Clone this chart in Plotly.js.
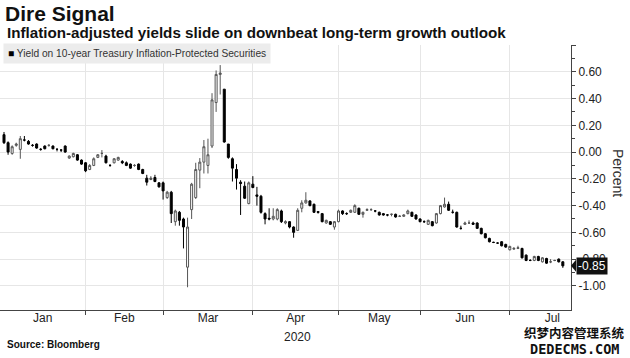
<!DOCTYPE html>
<html><head><meta charset="utf-8">
<script src="https://cdn.plot.ly/plotly-3.0.1.min.js"></script>
<style>html,body{margin:0;padding:0;background:#fff}#chart{width:630px;height:358px}</style>
</head><body><div id="chart"></div>
<script>
const dates = [
 "2020-01-02","2020-01-03","2020-01-06","2020-01-07","2020-01-08","2020-01-09","2020-01-10","2020-01-13","2020-01-14","2020-01-15","2020-01-16","2020-01-17","2020-01-21","2020-01-22","2020-01-23","2020-01-24","2020-01-27","2020-01-28","2020-01-29","2020-01-30","2020-01-31",
 "2020-02-03","2020-02-04","2020-02-05","2020-02-06","2020-02-07","2020-02-10","2020-02-11","2020-02-12","2020-02-13","2020-02-14","2020-02-18","2020-02-19","2020-02-20","2020-02-21","2020-02-24","2020-02-25","2020-02-26","2020-02-27","2020-02-28",
 "2020-03-02","2020-03-03","2020-03-04","2020-03-05","2020-03-06","2020-03-09","2020-03-10","2020-03-11","2020-03-12","2020-03-13","2020-03-16","2020-03-17","2020-03-18","2020-03-19","2020-03-20","2020-03-23","2020-03-24","2020-03-25","2020-03-26","2020-03-27","2020-03-30","2020-03-31",
 "2020-04-01","2020-04-02","2020-04-03","2020-04-06","2020-04-07","2020-04-08","2020-04-09","2020-04-13","2020-04-14","2020-04-15","2020-04-16","2020-04-17","2020-04-20","2020-04-21","2020-04-22","2020-04-23","2020-04-24","2020-04-27","2020-04-28","2020-04-29","2020-04-30",
 "2020-05-01","2020-05-04","2020-05-05","2020-05-06","2020-05-07","2020-05-08","2020-05-11","2020-05-12","2020-05-13","2020-05-14","2020-05-15","2020-05-18","2020-05-19","2020-05-20","2020-05-21","2020-05-22","2020-05-26","2020-05-27","2020-05-28","2020-05-29",
 "2020-06-01","2020-06-02","2020-06-03","2020-06-04","2020-06-05","2020-06-08","2020-06-09","2020-06-10","2020-06-11","2020-06-12","2020-06-15","2020-06-16","2020-06-17","2020-06-18","2020-06-19","2020-06-22","2020-06-23","2020-06-24","2020-06-25","2020-06-26","2020-06-29","2020-06-30",
 "2020-07-01","2020-07-02","2020-07-06","2020-07-07","2020-07-08","2020-07-09","2020-07-10","2020-07-13","2020-07-14","2020-07-15","2020-07-16","2020-07-17","2020-07-20"
];
const open = [
 0.13,0.07,-0.01,0.05,0.02,0.09,0.08,0.05,0.06,0.02,0.045,0.05,0.045,0.02,0.015,0.045,-0.045,-0.035,-0.02,-0.06,-0.08,
 -0.13,-0.10,-0.04,-0.01,-0.03,-0.10,-0.08,-0.06,-0.07,-0.08,-0.09,-0.10,-0.09,-0.13,-0.195,-0.205,-0.19,-0.23,-0.23,
 -0.34,-0.30,-0.52,-0.45,-0.50,-0.86,-0.43,-0.34,-0.135,-0.075,-0.10,0.045,0.37,0.58,0.47,0.06,-0.05,-0.13,-0.225,-0.255,-0.385,-0.24,
 -0.32,-0.33,-0.46,-0.495,-0.50,-0.50,-0.44,-0.53,-0.52,-0.56,-0.585,-0.42,-0.38,-0.365,-0.39,-0.445,-0.46,-0.53,-0.52,-0.56,-0.52,
 -0.44,-0.46,-0.45,-0.45,-0.42,-0.465,-0.435,-0.43,-0.44,-0.45,-0.46,-0.47,-0.465,-0.465,-0.48,-0.48,-0.46,-0.45,-0.47,-0.50,
 -0.52,-0.54,-0.52,-0.53,-0.46,-0.41,-0.39,-0.45,-0.45,-0.57,-0.54,-0.53,-0.53,-0.53,-0.57,-0.61,-0.645,-0.675,-0.68,-0.67,-0.69,-0.73,
 -0.725,-0.72,-0.72,-0.77,-0.81,-0.81,-0.78,-0.82,-0.795,-0.82,-0.81,-0.80,-0.82
];
const high = [
 0.15,0.08,0.05,0.07,0.12,0.12,0.09,0.06,0.065,0.03,0.05,0.06,0.05,0.03,0.02,0.05,-0.025,-0.005,-0.015,-0.055,-0.075,
 -0.09,-0.04,-0.015,0.015,-0.02,-0.09,-0.045,-0.035,-0.06,-0.07,-0.085,-0.09,-0.085,-0.125,-0.17,-0.18,-0.17,-0.225,-0.22,
 -0.29,-0.29,-0.43,-0.44,-0.49,-0.49,-0.23,-0.08,-0.045,0.09,0.10,0.44,0.61,0.65,0.47,0.06,-0.04,-0.09,-0.21,-0.22,-0.22,-0.18,
 -0.26,-0.32,-0.45,-0.42,-0.42,-0.42,-0.43,-0.51,-0.515,-0.555,-0.42,-0.36,-0.30,-0.36,-0.385,-0.44,-0.455,-0.505,-0.515,-0.515,-0.43,
 -0.435,-0.45,-0.43,-0.39,-0.415,-0.445,-0.42,-0.42,-0.435,-0.445,-0.455,-0.465,-0.46,-0.46,-0.47,-0.465,-0.43,-0.445,-0.465,-0.495,
 -0.51,-0.505,-0.515,-0.455,-0.395,-0.34,-0.37,-0.43,-0.445,-0.55,-0.52,-0.51,-0.52,-0.525,-0.565,-0.605,-0.64,-0.67,-0.675,-0.665,-0.685,-0.70,
 -0.71,-0.70,-0.715,-0.765,-0.80,-0.775,-0.775,-0.785,-0.79,-0.80,-0.805,-0.795,-0.815
];
const low = [
 0.06,-0.02,-0.02,0.04,-0.05,0.08,0.055,0.04,0.025,0.01,0.02,0.04,0.02,0.005,0.0,-0.005,-0.05,-0.04,-0.065,-0.095,-0.15,
 -0.135,-0.105,-0.045,-0.04,-0.085,-0.11,-0.085,-0.065,-0.09,-0.105,-0.125,-0.11,-0.135,-0.165,-0.25,-0.21,-0.225,-0.265,-0.355,
 -0.35,-0.53,-0.55,-0.55,-0.72,-1.01,-0.50,-0.35,-0.27,-0.16,-0.16,0.03,0.30,0.43,0.07,-0.05,-0.22,-0.28,-0.47,-0.35,-0.39,-0.27,
 -0.40,-0.46,-0.54,-0.51,-0.51,-0.51,-0.53,-0.54,-0.57,-0.64,-0.59,-0.45,-0.385,-0.405,-0.455,-0.46,-0.525,-0.535,-0.545,-0.58,-0.525,
 -0.47,-0.47,-0.455,-0.455,-0.47,-0.49,-0.44,-0.44,-0.45,-0.475,-0.475,-0.48,-0.48,-0.49,-0.485,-0.485,-0.465,-0.485,-0.505,-0.525,
 -0.53,-0.545,-0.555,-0.535,-0.465,-0.415,-0.44,-0.46,-0.565,-0.58,-0.545,-0.535,-0.545,-0.575,-0.615,-0.645,-0.675,-0.68,-0.685,-0.705,-0.715,-0.735,
 -0.73,-0.725,-0.795,-0.815,-0.815,-0.815,-0.815,-0.825,-0.835,-0.83,-0.815,-0.825,-0.865
];
const close = [
 0.07,0.00,0.04,0.06,0.10,0.09,0.06,0.05,0.03,0.02,0.025,0.05,0.025,0.02,0.015,0.00,-0.03,-0.01,-0.06,-0.09,-0.14,
 -0.10,-0.05,-0.02,-0.01,-0.08,-0.10,-0.05,-0.04,-0.08,-0.10,-0.12,-0.10,-0.13,-0.16,-0.225,-0.195,-0.22,-0.26,-0.29,
 -0.30,-0.46,-0.44,-0.51,-0.56,-0.56,-0.24,-0.13,-0.075,0.04,-0.02,0.39,0.58,0.59,0.075,-0.04,-0.12,-0.195,-0.235,-0.345,-0.23,-0.265,
 -0.33,-0.45,-0.50,-0.50,-0.48,-0.43,-0.52,-0.52,-0.56,-0.60,-0.435,-0.38,-0.36,-0.40,-0.45,-0.45,-0.52,-0.51,-0.54,-0.52,-0.44,
 -0.46,-0.46,-0.435,-0.40,-0.465,-0.45,-0.43,-0.43,-0.44,-0.47,-0.47,-0.47,-0.465,-0.485,-0.48,-0.47,-0.44,-0.48,-0.50,-0.52,
 -0.52,-0.51,-0.55,-0.46,-0.40,-0.39,-0.435,-0.45,-0.56,-0.57,-0.53,-0.53,-0.54,-0.57,-0.61,-0.64,-0.67,-0.675,-0.68,-0.70,-0.71,-0.705,
 -0.72,-0.715,-0.79,-0.81,-0.81,-0.78,-0.81,-0.79,-0.83,-0.82,-0.81,-0.82,-0.85
];
const monthNames = ["Jan","Feb","Mar","Apr","May","Jun","Jul"];
const yTickVals = [-1.0,-0.8,-0.6,-0.4,-0.2,0.0,0.2,0.4,0.6,0.8];

// positions (trading-day index) derived from the date list
const xi = dates.map((d, i) => i);
const lastIdx = [];
dates.forEach((d, i) => { lastIdx[+d.slice(5, 7) - 1] = i; });
const gridIdx = lastIdx.slice(0, lastIdx.length - 1);
const lens = gridIdx.map((v, k) => v - (k === 0 ? -1 : gridIdx[k - 1]));
const avgLen = lens.reduce((a, b) => a + b, 0) / lens.length;
const labelIdx = lastIdx.map((v, k) => {
  const prev = k === 0 ? -1 : lastIdx[k - 1];
  const end = k === lastIdx.length - 1 ? prev + avgLen : v;
  return (prev + end) / 2;
});
const minorY = [];
for (let k = 0; k < yTickVals.length - 1; k++) minorY.push((yTickVals[k] + yTickVals[k + 1]) / 2);

const W = 630, H = 358, mL = 0, mR = 59, mT = 45, mB = 48;
const pw = W - mL - mR, ph = H - mT - mB;
const px = v => (v - mL) / pw;
const py = v => (H - mB - v) / ph;

const lastClose = close[close.length - 1];
const FONT = "Liberation Sans, Arial, sans-serif";

const trace = {
  type: "candlestick", x: xi, open: open, high: high, low: low, close: close,
  increasing: { line: { color: "#555555", width: 1 }, fillcolor: "#ffffff" },
  decreasing: { line: { color: "#000000", width: 1 }, fillcolor: "#000000" },
  whiskerwidth: 0, hoverinfo: "skip", showlegend: false
};

const layout = {
  width: W, height: H,
  margin: { l: mL, r: mR, t: mT, b: mB, pad: 0 },
  paper_bgcolor: "#ffffff", plot_bgcolor: "#ffffff",
  font: { family: FONT, size: 12, color: "#222" },
  showlegend: false, dragmode: false, hovermode: false,
  title: { text: "<b>Dire Signal</b>", x: 5 / W, xanchor: "left", xref: "container",
           y: 1 - 14 / H, yanchor: "middle", yref: "container",
           font: { family: FONT, size: 21, color: "#111" } },
  xaxis: {
    type: "linear", range: [-0.98, 139.0], rangeslider: { visible: false },
    showgrid: false, zeroline: false, showline: true, linecolor: "#444", linewidth: 1,
    tickmode: "array", tickvals: labelIdx, ticktext: monthNames, ticks: "",
    ticklabelstandoff: -3,
    tickfont: { family: FONT, size: 12, color: "#222" },
    minor: { tickmode: "array", tickvals: gridIdx, ticks: "outside", ticklen: 4, tickcolor: "#444",
             showgrid: true, gridcolor: "#e6e6e6", gridwidth: 1 },
    fixedrange: true
  },
  yaxis: {
    side: "right", range: [-1.18, 0.8], zeroline: false,
    showline: true, linecolor: "#444", linewidth: 1,
    tickmode: "array", tickvals: yTickVals,
    ticktext: yTickVals.map(v => v >= 0.79 ? "" : v.toFixed(2)),
    ticks: "outside", ticklen: 4, tickcolor: "#444",
    showgrid: true, gridcolor: "#e6e6e6", gridwidth: 1,
    tickfont: { family: FONT, size: 12, color: "#222" },
    minor: { tickmode: "array", tickvals: minorY, ticks: "outside", ticklen: 3, tickcolor: "#444", showgrid: false },
    fixedrange: true
  },
  shapes: [
    { type: "path", xref: "paper", yref: "y", layer: "above",
      path: `M 1,${lastClose} L ${1 + 5 / pw},${lastClose + 0.045} L ${1 + 5 / pw},${lastClose - 0.045} Z`,
      fillcolor: "#111", line: { width: 0 } }
  ],
  annotations: [
    { xref: "paper", yref: "paper", x: px(5), y: py(32), xanchor: "left", yanchor: "middle",
      text: "<b>Inflation-adjusted yields slide on downbeat long-term growth outlook</b>", showarrow: false,
      font: { family: FONT, size: 15.2, color: "#111" } },
    { xref: "paper", yref: "paper", x: px(3), y: py(53), xanchor: "left", yanchor: "middle",
      text: "<span style='color:#000'>■</span> Yield on 10-year Treasury Inflation-Protected Securities",
      showarrow: false, bgcolor: "#ececec", borderpad: 4, align: "left",
      font: { family: FONT, size: 10.2, color: "#333" } },
    { xref: "paper", yref: "paper", x: px(618), y: py(173), xanchor: "center", yanchor: "middle",
      text: "Percent", textangle: 90, showarrow: false,
      font: { family: FONT, size: 14, color: "#333" } },
    { xref: "paper", yref: "paper", x: px(297), y: py(337), xanchor: "center", yanchor: "middle",
      text: "2020", showarrow: false, font: { family: FONT, size: 12, color: "#222" } },
    { xref: "paper", yref: "paper", x: px(5), y: py(344), xanchor: "left", yanchor: "middle",
      text: "<b>Source: Bloomberg</b>", showarrow: false, font: { family: FONT, size: 10, color: "#111" } },
    { xref: "paper", yref: "y", x: 1, y: lastClose, xanchor: "left", yanchor: "middle", xshift: 5,
      text: lastClose.toFixed(2), showarrow: false, bgcolor: "#111", borderpad: 1,
      font: { family: FONT, size: 12, color: "#ffffff" } },
    { xref: "paper", yref: "paper", x: px(574), y: py(332), xanchor: "center", yanchor: "middle",
      text: "<b>织梦内容管理系统</b>", showarrow: false,
      font: { family: "Noto Sans CJK SC, sans-serif", size: 12.5, color: "#111" } },
    { xref: "paper", yref: "paper", x: px(574), y: py(349), xanchor: "center", yanchor: "middle",
      text: "<b>DEDECMS.COM</b>", showarrow: false,
      font: { family: "DejaVu Sans Mono, monospace", size: 13.5, color: "#111" } }
  ]
};

Plotly.newPlot("chart", [trace], layout, { staticPlot: true, displayModeBar: false });
</script>
</body></html>
